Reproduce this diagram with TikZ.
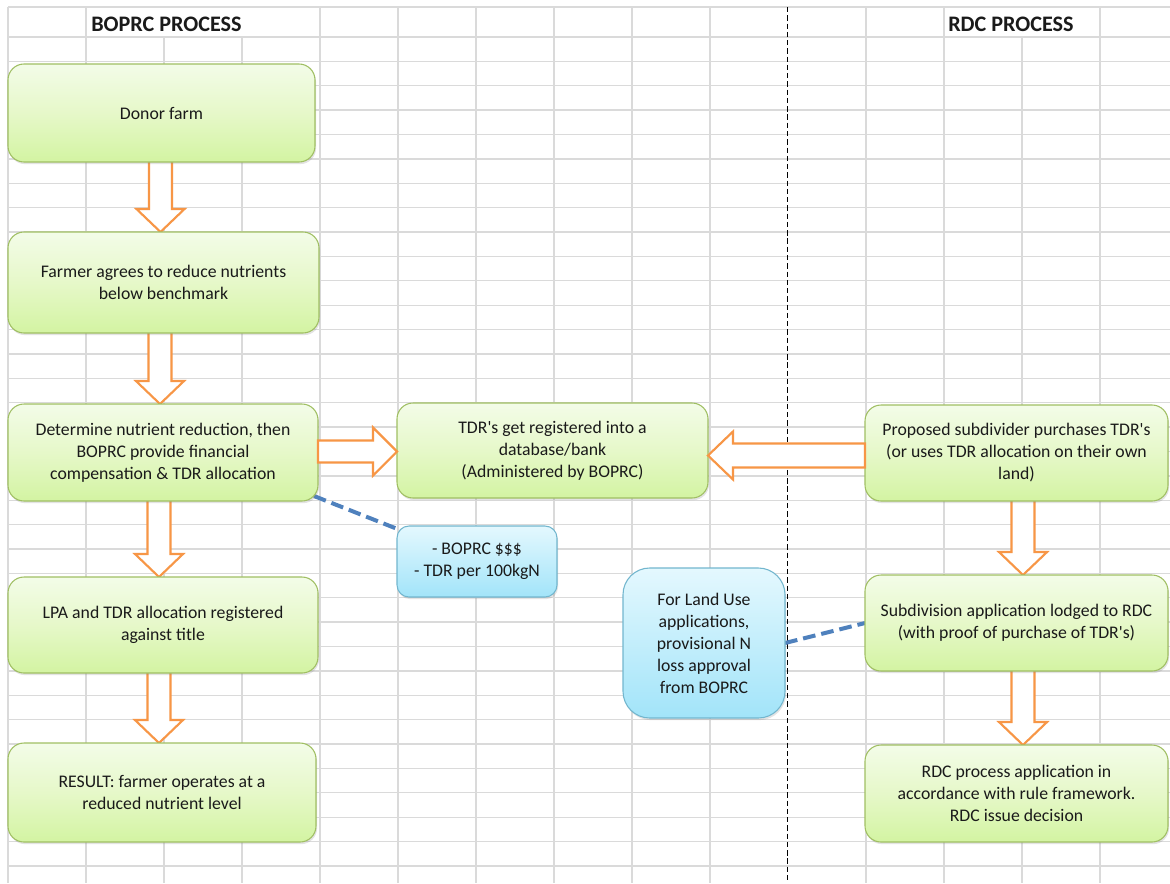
\documentclass[tikz,border=0pt]{standalone}
\usepackage{fontspec}
\setmainfont{Carlito}[Ligatures=TeXOff]
\usetikzlibrary{calc,shadows}
\pgfdeclarelayer{back}
\pgfsetlayers{back,main}
\definecolor{gridc}{HTML}{DADADA}
\definecolor{greenT}{HTML}{F3FCE8}
\definecolor{greenM}{HTML}{E6F8C9}
\definecolor{greenL}{HTML}{D3F4A2}
\definecolor{greenB}{HTML}{A0BF63}
\definecolor{blueT}{HTML}{E4F8FE}
\definecolor{blueL}{HTML}{A2E4F9}
\definecolor{blueB}{HTML}{72B6CE}
\definecolor{orangeA}{HTML}{F79646}
\definecolor{dashblue}{HTML}{4F81BD}
\definecolor{txt}{HTML}{1A1A1A}
% box from pixel corners: style, name, x1, y1, x2, y2, text
\newcommand\pbox[7]{%
  \node[#1, minimum width={(#5-#3)*0.75pt}, minimum height={(#6-#4)*0.75pt}]
    (#2) at ({(#3+#5)/2},{(#4+#6)/2}) {#7};}
\newcommand\downblock[3]{%
  \coordinate (t) at ($(#2.north)+(#3,0)$);
  \coordinate (s0) at (t |- #1.south);
  \coordinate (s) at ($(s0)+(0,-2)$);
  \draw[blockarrow] ($(s)+(-11.5,0)$) -- ($(t)+(-11.5,-23)$) -- ($(t)+(-24,-23)$) -- (t)
    -- ($(t)+(24,-23)$) -- ($(t)+(11.5,-23)$) -- ($(s)+(11.5,0)$) -- cycle;}
\begin{document}
\begin{tikzpicture}[x=0.75pt,y=-0.75pt,
  box/.style={inner sep=0pt, outer sep=0pt, anchor=center, align=center, font=\fontsize{13.3}{16.5}\selectfont, text=txt,
    line width=0.8pt, drop shadow={opacity=0.22, shadow xshift=0.8pt, shadow yshift=-1.6pt}},
  greenbox/.style={box, rounded corners=12pt, draw=greenB, top color=greenT, bottom color=greenL, middle color=greenM},
  bluebox/.style={box, draw=blueB, top color=blueT, bottom color=blueL},
  title/.style={font=\fontsize{16.6}{19}\selectfont\bfseries, text=txt, inner sep=0pt},
  blockarrow/.style={draw=orangeA, fill=white, line width=1.6pt, line join=miter},
  noteline/.style={draw=dashblue, line width=3pt, dash pattern=on 9.5pt off 4.5pt},
  gridline/.style={draw=gridc, line width=1pt}]
\useasboundingbox (0,0) rectangle (1170,883);
% spreadsheet grid
\begin{pgfonlayer}{back}
\fill[white] (0,0) rectangle (1170,883);
\draw[gridline] (8,7) -- (1170,7);
\foreach \k in {0,...,34} \draw[gridline] (8,{37+24.38*\k}) -- (1170,{37+24.38*\k});
\foreach \i in {0,1,4,5,6,7,8,9,11,12,14} \draw[gridline] ({8+78*\i},7) -- ({8+78*\i},883);
\foreach \i in {2,3,13} \draw[gridline] ({8+78*\i},37) -- ({8+78*\i},883);
\draw[black, line width=1.3pt, dash pattern=on 4pt off 2.2pt] (787.5,7) -- (787.5,883);
\end{pgfonlayer}
% titles
\node[title, anchor=base west] (tl) at (91,31.5) {BOPRC PROCESS};
\node[title, anchor=base west] (tr) at (948,31.5) {RDC PROCESS};
% left column
\pbox{greenbox}{b1}{8}{64}{315}{162}{Donor farm}
\pbox{greenbox}{b2}{8}{232}{319}{333}{Farmer agrees to reduce nutrients\\below benchmark}
\pbox{greenbox}{b3}{8}{404}{318}{501}{Determine nutrient reduction, then\\BOPRC provide financial\\compensation \& TDR allocation}
\pbox{greenbox}{b4}{8}{577}{318}{673}{LPA and TDR allocation registered\\against title}
\pbox{greenbox}{b5}{8}{743}{316}{842}{RESULT: farmer operates at a\\reduced nutrient level}
% middle
\pbox{greenbox}{tdr}{397}{403}{708}{498}{TDR's get registered into a\\database/bank\\(Administered by BOPRC)}
\pbox{bluebox, rounded corners=9pt}{n1}{397}{526}{557}{597}{- BOPRC \$\$\$\\- TDR per 100kgN}
\pbox{bluebox, rounded corners=20pt}{n2}{623}{568}{785}{718}{For Land Use\\applications,\\provisional N\\loss approval\\from BOPRC}
% right column
\pbox{greenbox}{b7}{865}{405}{1168}{501}{Proposed subdivider purchases TDR's\\(or uses TDR allocation on their own\\land)}
\pbox{greenbox}{b8}{865}{575}{1168}{671}{Subdivision application lodged to RDC\\(with proof of purchase of TDR's)}
\pbox{greenbox}{b9}{865}{745}{1168}{842}{RDC process application in\\accordance with rule framework.\\RDC issue decision}
% connectors
\begin{pgfonlayer}{back}
\downblock{b1}{b2}{-3}
\downblock{b2}{b3}{-3}
\downblock{b3}{b4}{-4}
\downblock{b4}{b5}{-3}
\downblock{b7}{b8}{6.5}
\downblock{b8}{b9}{6.5}
% dashed note lines
\draw[noteline] ($(b3.south east)+(-4,-5)$) -- ($(n1.north west)+(3,4)$);
\draw[noteline] (n2.east) -- (b8.west);
\end{pgfonlayer}
% right arrow b3 -> tdr
\coordinate (ta) at ($(tdr.west)+(0,1)$);
\coordinate (sa) at (b3.east |- ta);
\draw[blockarrow] ($(sa)+(0,-11)$) -- ($(ta)+(-24,-11)$) -- ($(ta)+(-24,-24)$) -- (ta)
  -- ($(ta)+(-24,24)$) -- ($(ta)+(-24,11)$) -- ($(sa)+(0,11)$) -- cycle;
% left arrow b7 -> tdr
\coordinate (tb) at ($(tdr.east)+(0,5)$);
\coordinate (sb) at (b7.west |- tb);
\draw[blockarrow] ($(sb)+(0,-12)$) -- ($(tb)+(25,-12)$) -- ($(tb)+(25,-24)$) -- (tb)
  -- ($(tb)+(25,24)$) -- ($(tb)+(25,12)$) -- ($(sb)+(0,12)$) -- cycle;
\end{tikzpicture}
\end{document}
